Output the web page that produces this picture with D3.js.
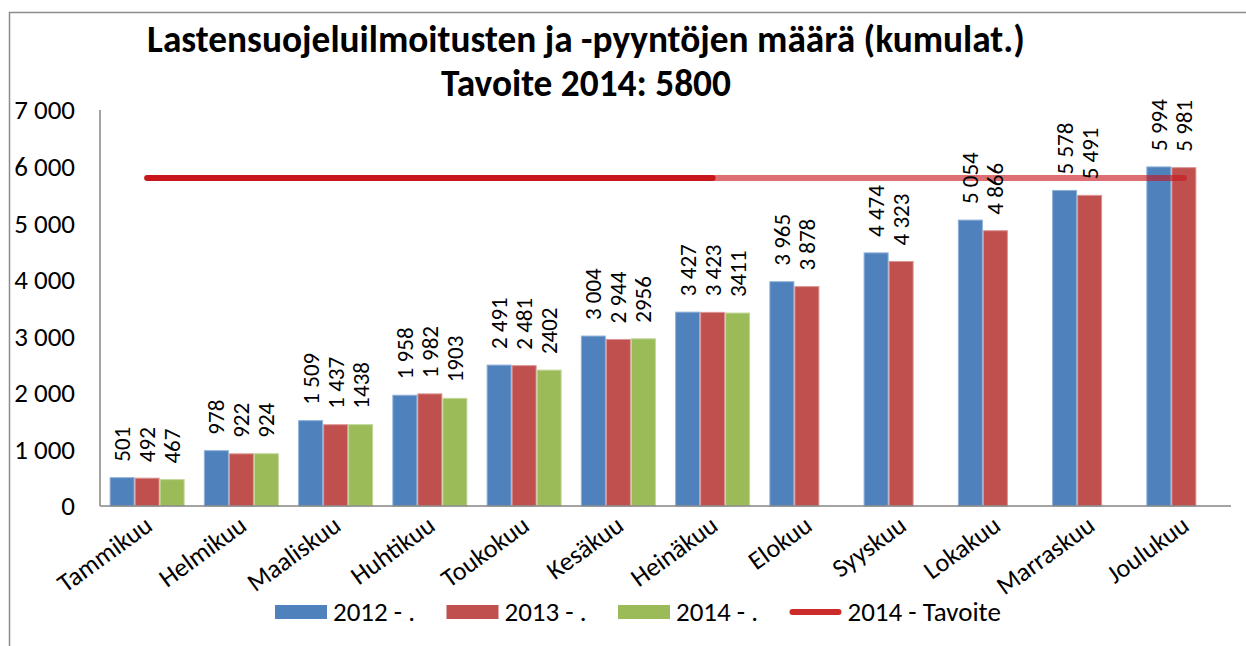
<!DOCTYPE html>
<html lang="fi">
<head>
  <meta charset="UTF-8">
  <title>Lastensuojeluilmoitukset</title>
  <script src="https://d3js.org/d3.v7.min.js"></script>
  <style>
    body { margin: 0; background: #fff; }
    svg text { font-family: Calibri, Carlito, Lato, sans-serif; fill: #000; }
  </style>
</head>
<body>
  <div id="chart"></div>
  <script>
    // data
    var months = ["Tammikuu", "Helmikuu", "Maaliskuu", "Huhtikuu", "Toukokuu", "Kesäkuu",
                  "Heinäkuu", "Elokuu", "Syyskuu", "Lokakuu", "Marraskuu", "Joulukuu"];
    var v2012 = [501, 978, 1509, 1958, 2491, 3004, 3427, 3965, 4474, 5054, 5578, 5994];
    var v2013 = [492, 922, 1437, 1982, 2481, 2944, 3423, 3878, 4323, 4866, 5491, 5981];
    var v2014 = [467, 924, 1438, 1903, 2402, 2956, 3411, null, null, null, null, null];
    var target = 5800;
    var seriesNames = ["2012 - .", "2013 - .", "2014 - ."];
    var lineName = "2014 - Tavoite";
    var yTicks = [0, 1000, 2000, 3000, 4000, 5000, 6000, 7000];
    var titleLines = ["Lastensuojeluilmoitusten ja -pyyntöjen määrä (kumulat.)", "Tavoite 2014: 5800"];

    var colors = ["#4F81BD", "#C0504D", "#9BBB59"];
    var edge = ["#8FB0D8", "#D99694", "#C3D69B"];

    var W = 1246, H = 646;
    var margin = {top: 110, left: 100, right: 15, bottom: 140};
    var width = W - margin.left - margin.right,
        height = H - margin.top - margin.bottom;

    var fi = d3.formatLocale({decimal: ",", thousands: " ", grouping: [3], currency: ["", " €"]});
    var fmtGrouped = fi.format(",d");
    var fmtPlain = d3.format("d");
    var fmts = [fmtGrouped, fmtGrouped, fmtPlain];

    var svg = d3.select("#chart").append("svg")
      .attr("width", W).attr("height", H);

    // chart frame
    svg.append("rect")
      .attr("x", 9.5).attr("y", 12.5)
      .attr("width", W + 20).attr("height", H + 20)
      .attr("fill", "none").attr("stroke", "#8C8C8C").attr("stroke-width", 1.5);

    // title
    var titleW = [878, 290];
    titleLines.forEach(function (t, i) {
      var el = svg.append("text")
        .attr("x", 586).attr("y", i == 0 ? 52 : 96)
        .attr("text-anchor", "middle")
        .style("font-weight", "bold")
        .style("font-size", "32px")
        .text(t);
      var len = el.node().getComputedTextLength();
      el.style("font-size", (32 * titleW[i] / len).toFixed(2) + "px");
    });

    var g = svg.append("g")
      .attr("transform", "translate(" + margin.left + "," + margin.top + ")");

    var x0 = d3.scaleBand()
      .domain(months)
      .range([0, width])
      .paddingInner(0.204)
      .paddingOuter(0.102);

    var x1 = d3.scaleBand()
      .domain([0, 1, 2])
      .range([0, x0.bandwidth()]);

    var y = d3.scaleLinear()
      .domain([0, 7000])
      .range([height, 0]);

    // y axis labels
    g.selectAll(".ylab")
      .data(yTicks)
      .enter().append("text")
      .attr("class", "ylab")
      .attr("x", -25)
      .attr("y", function (d) { return y(d); })
      .attr("dy", "0.35em")
      .attr("text-anchor", "end")
      .style("font-size", "27px")
      .text(function (d) { return fmtGrouped(d); });

    // bars
    var series = [v2012, v2013, v2014];
    series.forEach(function (vals, s) {
      var pts = months.map(function (m, i) { return {m: m, v: vals[i]}; })
        .filter(function (d) { return d.v != null; });

      g.append("g").selectAll("rect")
        .data(pts)
        .enter().append("rect")
        .attr("x", function (d) { return x0(d.m) + x1(s) + 0.5; })
        .attr("y", function (d) { return y(d.v); })
        .attr("width", x1.bandwidth() - 1)
        .attr("height", function (d) { return height - y(d.v); })
        .attr("fill", colors[s])
        .attr("stroke", edge[s])
        .attr("stroke-width", 1);
    });

    // axes lines
    g.append("line")
      .attr("x1", 0).attr("x2", 0).attr("y1", 0).attr("y2", height)
      .attr("stroke", "#868686").attr("stroke-width", 1.5);
    g.append("line")
      .attr("x1", 0).attr("x2", width).attr("y1", height).attr("y2", height)
      .attr("stroke", "#868686").attr("stroke-width", 1.5);

    // target line: solid through the months with 2014 data, faded after
    var cx = function (m) { return x0(m) + x0.bandwidth() / 2; };
    var lastIdx = 6;
    g.append("line")
      .attr("x1", cx(months[lastIdx])).attr("x2", cx(months[months.length - 1]))
      .attr("y1", y(target)).attr("y2", y(target))
      .attr("stroke", "#C8161D").attr("stroke-opacity", 0.62)
      .attr("stroke-width", 6).attr("stroke-linecap", "round");
    g.append("line")
      .attr("x1", cx(months[0])).attr("x2", cx(months[lastIdx]))
      .attr("y1", y(target)).attr("y2", y(target))
      .attr("stroke", "#C8161D")
      .attr("stroke-width", 6).attr("stroke-linecap", "round");

    // data labels
    series.forEach(function (vals, s) {
      var pts = months.map(function (m, i) { return {m: m, v: vals[i]}; })
        .filter(function (d) { return d.v != null; });
      g.append("g").selectAll("text")
        .data(pts)
        .enter().append("text")
        .attr("transform", function (d) {
          return "translate(" + (x0(d.m) + x1(s) + x1.bandwidth() / 2) + "," + (y(d.v) - 16) + ") rotate(-90)";
        })
        .attr("dy", "0.35em")
        .style("font-size", "23px")
        .text(function (d) { return fmts[s](d.v); });
    });

    // month labels
    g.selectAll(".xlab")
      .data(months)
      .enter().append("text")
      .attr("class", "xlab")
      .attr("transform", function (d) {
        return "translate(" + (cx(d) + 7) + "," + (height + 23) + ") rotate(-36)";
      })
      .attr("text-anchor", "end")
      .style("font-size", "26px")
      .text(function (d) { return d; });

    // legend
    var leg = svg.append("g").attr("transform", "translate(275,612)");
    var step = 171.5;
    seriesNames.forEach(function (n, i) {
      leg.append("rect")
        .attr("x", i * step).attr("y", -7)
        .attr("width", 52).attr("height", 14)
        .attr("fill", colors[i]);
      leg.append("text")
        .attr("x", i * step + 58).attr("y", 0).attr("dy", "0.35em")
        .style("font-size", "27px")
        .text(n);
    });
    leg.append("line")
      .attr("x1", 3 * step + 3).attr("x2", 3 * step + 49)
      .attr("y1", 0).attr("y2", 0)
      .attr("stroke", "#CC2B2B").attr("stroke-width", 6).attr("stroke-linecap", "round");
    leg.append("text")
      .attr("x", 3 * step + 58).attr("y", 0).attr("dy", "0.35em")
      .style("font-size", "27px")
      .text(lineName);
  </script>
</body>
</html>
